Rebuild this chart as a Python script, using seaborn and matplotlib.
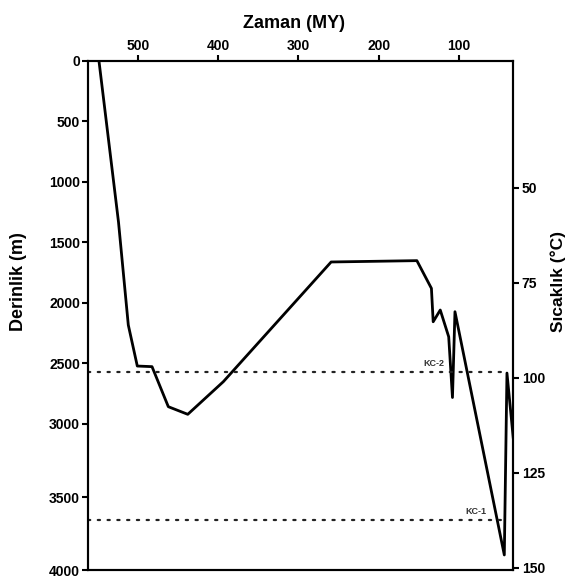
import numpy as np
import pandas as pd
import matplotlib
matplotlib.use("Agg")
import matplotlib.pyplot as plt
import seaborn as sns

# ---- data ----
time_my = [548.2, 523.9, 511.7, 500.5, 482.2, 461.9, 437.7, 393.4, 259.3,
           152.6, 134.5, 132.3, 123.5, 113.0, 108.3, 105.2, 43.8, 40.5, 32.6]
depth_m = [0, 1331, 2182, 2521, 2526, 2857, 2920, 2650, 1661,
           1650, 1879, 2155, 2058, 2279, 2781, 2072, 3897, 2579, 3100]

time_ticks = [500, 400, 300, 200, 100]
depth_ticks = [0, 500, 1000, 1500, 2000, 2500, 3000, 3500, 4000]
temp_ticks = [50, 75, 100, 125, 150]

ref_labels = ["KC-2", "KC-1"]
ref_depths = [2570, 3657]
ref_label_time = [131, 79]
ref_label_depth = [2496, 3596]

df = pd.DataFrame({"time": time_my, "depth": depth_m})

sns.set_style("ticks")
plt.rcParams["font.family"] = ["Liberation Sans", "DejaVu Sans"]
plt.rcParams["font.weight"] = "bold"
plt.rcParams["axes.labelweight"] = "bold"
plt.rcParams["text.color"] = "black"
plt.rcParams["axes.labelcolor"] = "black"
plt.rcParams["xtick.color"] = "black"
plt.rcParams["ytick.color"] = "black"

fig = plt.figure(figsize=(5.67, 5.8), dpi=100)
ax = fig.add_axes([0.1557, 0.01724, 0.7496, 0.8776])

# depth axis is stretched below 3000 m in the reference
K = 1.2066
def fwd(d):
    d = np.asarray(d, dtype=float)
    return np.where(d <= 3000, d, 3000 + (d - 3000) * K)
def inv(u):
    u = np.asarray(u, dtype=float)
    return np.where(u <= 3000, u, 3000 + (u - 3000) / K)
ax.set_yscale("function", functions=(fwd, inv))

sns.lineplot(data=df, x="time", y="depth", sort=False, estimator=None,
             color="black", lw=2.0, ax=ax)

xl = (561.5, 32.6)
for d in ref_depths:
    ax.plot([xl[0], 43], [d, d], color="#222222", lw=1.6,
            linestyle=(0, (1, 3.4)), dash_capstyle="round")
for lab, tx, ty in zip(ref_labels, ref_label_time, ref_label_depth):
    ax.text(tx, ty, lab, fontsize=6.5, fontweight="bold", color="#333333",
            ha="center", va="center")

ax.set_xlim(*xl)
ax.set_ylim(4000, 0)
ax.set_xticks(time_ticks)
ax.set_xticklabels([str(t) for t in time_ticks])
ax.set_yticks(depth_ticks)
ax.set_yticklabels([str(t) for t in depth_ticks])
ax.xaxis.tick_top()
ax.xaxis.set_label_position("top")
ax.tick_params(axis="both", direction="out", length=4, width=1.5,
               labelsize=10, pad=2, colors="black")
ax.tick_params(bottom=False, labelbottom=False, top=True, labeltop=True)
ax.set_xlabel("Zaman (MY)", fontsize=13, fontweight="bold", color="black")
ax.set_ylabel("Derinlik (m)", fontsize=13, fontweight="bold", color="black")
ax.xaxis.set_label_coords(0.484, 1.065)
ax.yaxis.set_label_coords(-0.145, 0.566)

ax2 = ax.twinx()
ax2.set_ylim(150.58, 16.63)
ax2.set_yticks(temp_ticks)
ax2.set_yticklabels([str(t) for t in temp_ticks])
ax2.tick_params(axis="y", direction="out", length=4, width=1.5,
                labelsize=10, pad=2, colors="black")
ax2.set_ylabel("Sıcaklık (°C)", fontsize=12.5, fontweight="bold", color="black")
ax2.yaxis.set_label_coords(1.088, 0.566)

for a in (ax, ax2):
    for s in a.spines.values():
        s.set_visible(True)
        s.set_linewidth(1.5)
        s.set_color("black")

fig.savefig("out.png", dpi=100, facecolor="white")
